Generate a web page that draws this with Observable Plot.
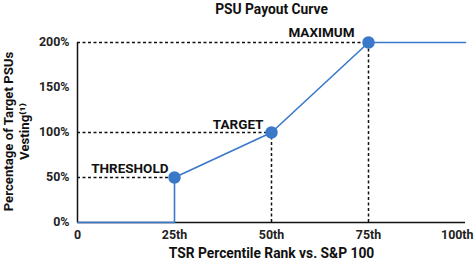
<!DOCTYPE html>
<html>
<head>
<meta charset="utf-8">
<script src="https://cdn.jsdelivr.net/npm/d3@7"></script>
<script src="https://cdn.jsdelivr.net/npm/@observablehq/plot@0.6"></script>
<style>
  html, body { margin: 0; padding: 0; background: #fff; }
  svg { font-family: Roboto, "Liberation Sans", sans-serif; }
</style>
</head>
<body>
<div id="chart"></div>
<script>
const title = "PSU Payout Curve";
const xLabel = "TSR Percentile Rank vs. S&P 100";
const yLabel1 = "Percentage of Target PSUs";
const yLabel2 = "Vesting⁽¹⁾";

// payout curve
const curveX = [0, 25, 25, 50, 75, 100];
const curveY = [0, 0, 50, 100, 200, 200];

// key points
const pointNames = ["THRESHOLD", "TARGET", "MAXIMUM"];
const pointX = [25, 50, 75];
const pointY = [50, 100, 200];

const xTicks = [0, 25, 50, 75, 100];
const xTickLabels = ["0", "25th", "50th", "75th", "100th"];
const yTicks = [0, 50, 100, 150, 200];

const curve = curveX.map((x, i) => ({x, y: curveY[i]}));
const points = pointNames.map((name, i) => ({name, x: pointX[i], y: pointY[i]}));
const hDash = points.map(p => ({x1: 0, x2: p.x, y: p.y}));
const vDash = points.filter(p => p.x !== 25).map(p => ({x: p.x, y1: 0, y2: p.y}));
const xTickData = xTicks.map((x, i) => ({x, label: xTickLabels[i]}));

const blue = "#3a78c9";
const ink = "#111";
const labelOffsets = {THRESHOLD: [-6, -9], TARGET: [-8, -8], MAXIMUM: [-14, -10]};

const chart = Plot.plot({
  width: 474,
  height: 261,
  marginLeft: 77,
  marginRight: 9,
  marginTop: 42,
  marginBottom: 39,
  style: {fontFamily: "Roboto, sans-serif", fontSize: "12px", fontWeight: "bold", color: "#222", background: "#fff"},
  x: {domain: [0, 100], axis: null},
  y: {domain: [0, 200], axis: null},
  marks: [
    Plot.ruleY([0], {stroke: ink, strokeWidth: 1.5}),
    Plot.ruleX([0], {stroke: ink, strokeWidth: 1.5}),
    Plot.ruleY(hDash, {x1: "x1", x2: "x2", y: "y", stroke: ink, strokeWidth: 1.5, strokeDasharray: "3,2.5"}),
    Plot.ruleX(vDash, {x: "x", y1: "y1", y2: "y2", stroke: ink, strokeWidth: 1.5, strokeDasharray: "3,2.5"}),
    Plot.line(curve, {x: "x", y: "y", stroke: blue, strokeWidth: 1.6}),
    Plot.dot(points, {x: "x", y: "y", r: 5.5, fill: blue, stroke: blue}),
    ...points.map(p => Plot.text([p], {x: "x", y: "y", text: "name", textAnchor: "end",
      dx: labelOffsets[p.name][0], dy: labelOffsets[p.name][1], fontSize: 13.5, fontWeight: "bold", fill: ink})),
    Plot.text([title], {frameAnchor: "top", lineAnchor: "middle", textAnchor: "middle", dy: -33, fontSize: 13.8, fontWeight: "bold", fill: ink}),
    Plot.text([xLabel], {frameAnchor: "bottom", lineAnchor: "middle", textAnchor: "middle", dy: 31, fontSize: 13.8, fontWeight: "bold", fill: ink}),
    Plot.text([yLabel1], {frameAnchor: "left", lineAnchor: "middle", textAnchor: "middle", dx: -69, dy: -1, rotate: -90, fontSize: 13.2, fontWeight: "bold", fill: ink}),
    Plot.text([yLabel2], {frameAnchor: "left", lineAnchor: "middle", textAnchor: "middle", dx: -53, dy: -1, rotate: -90, fontSize: 13.2, fontWeight: "bold", fill: ink}),
    // x tick labels
    Plot.text(xTickData.slice(0, 4), {x: "x", frameAnchor: "bottom", text: "label", lineAnchor: "middle", textAnchor: "middle", dy: 13, fontSize: 12.4, fontWeight: "bold", fill: "#222"}),
    Plot.text(xTickData.slice(4), {x: "x", frameAnchor: "bottom", text: "label", lineAnchor: "middle", textAnchor: "end", dx: 8, dy: 13, fontSize: 12.4, fontWeight: "bold", fill: "#222"}),
    // y tick labels
    Plot.text(yTicks, {y: d => d, frameAnchor: "left", text: d => d + "%", lineAnchor: "middle", textAnchor: "end", dx: -8, fontSize: 12.4, fontWeight: "bold", fill: "#222"})
  ]
});
document.getElementById("chart").appendChild(chart);
</script>
</body>
</html>
